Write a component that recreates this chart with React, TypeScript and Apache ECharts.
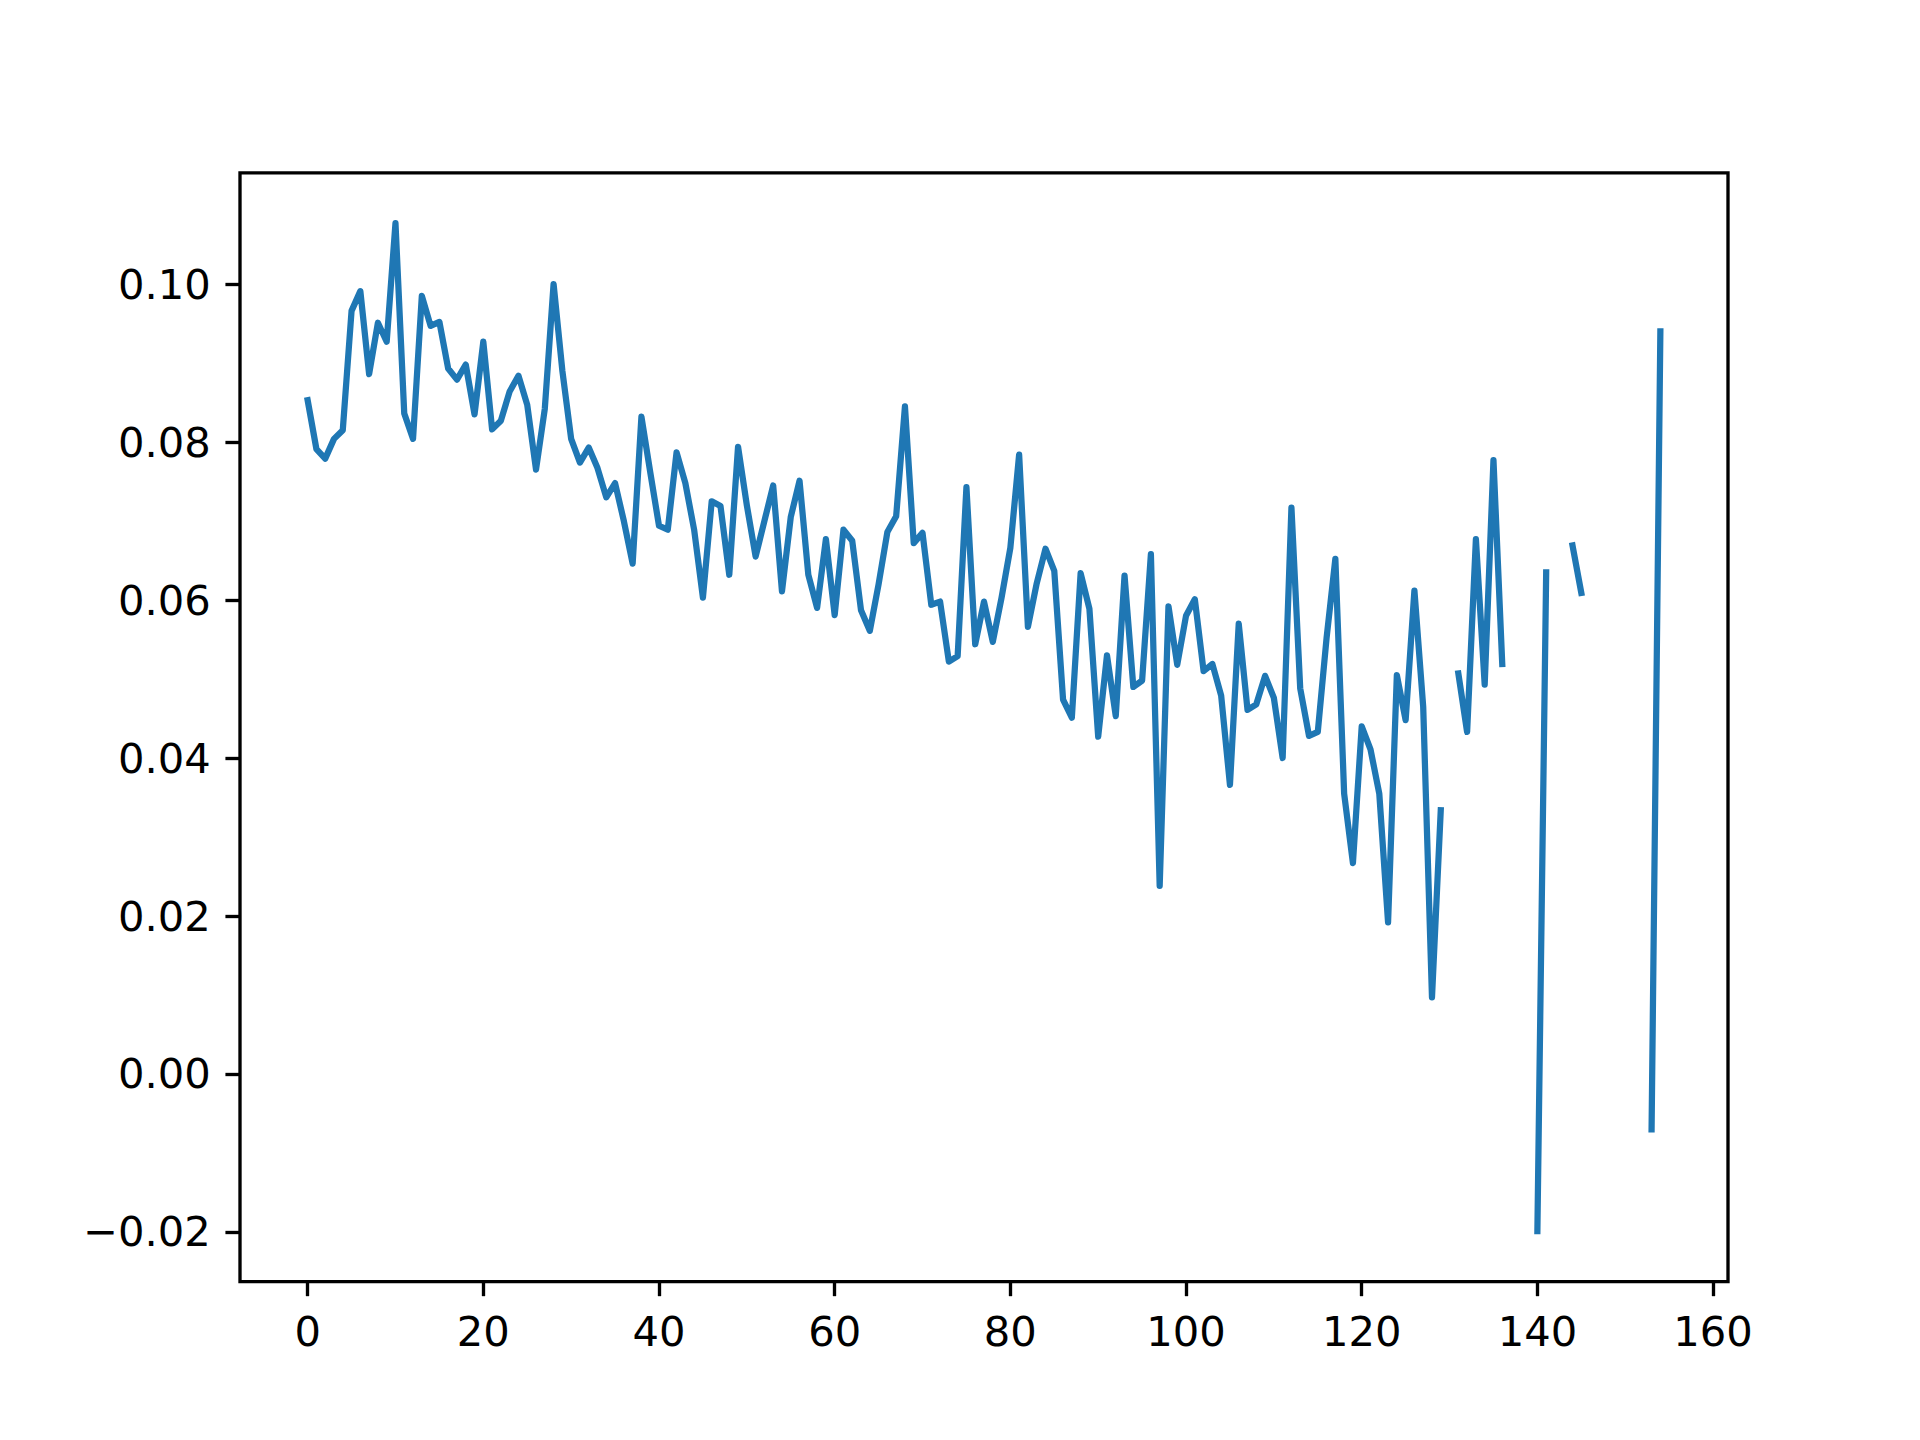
import React, { useEffect, useRef } from "react";
import * as echarts from "echarts";

const yValues: (number | null)[] = [
  0.0853, 0.0791, 0.0779, 0.0804, 0.0815, 0.0966, 0.0991, 0.0886, 0.0951, 0.0927,
  0.1077, 0.0836, 0.0804, 0.0985, 0.0947, 0.0952, 0.0893, 0.0879, 0.0898, 0.0835,
  0.0927, 0.0816, 0.0827, 0.0864, 0.0884, 0.0847, 0.0765, 0.0842, 0.1000, 0.0890,
  0.0804, 0.0774, 0.0793, 0.0767, 0.0730, 0.0748, 0.0700, 0.0646, 0.0832, 0.0762,
  0.0694, 0.0689, 0.0787, 0.0748, 0.0689, 0.0603, 0.0725, 0.0719, 0.0632, 0.0794,
  0.0720, 0.0655, 0.0700, 0.0745, 0.0611, 0.0705, 0.0751, 0.0632, 0.0590, 0.0677,
  0.0581, 0.0689, 0.0675, 0.0587, 0.0561, 0.0620, 0.0686, 0.0706, 0.0845, 0.0672,
  0.0685, 0.0594, 0.0598, 0.0522, 0.0529, 0.0743, 0.0544, 0.0598, 0.0547, 0.0603,
  0.0666, 0.0784, 0.0566, 0.0621, 0.0665, 0.0637, 0.0474, 0.0451, 0.0634, 0.0589,
  0.0427, 0.0530, 0.0453, 0.0631, 0.0490, 0.0498, 0.0658, 0.0238, 0.0592, 0.0518,
  0.0580, 0.0601, 0.0510, 0.0519, 0.0479, 0.0366, 0.0570, 0.0461, 0.0468, 0.0504,
  0.0476, 0.0400, 0.0717, 0.0488, 0.0428, 0.0433, 0.0552, 0.0652, 0.0355, 0.0267,
  0.0440, 0.0411, 0.0355, 0.0192, 0.0505, 0.0448, 0.0612, 0.0465, 0.0097, 0.0334,
  null, 0.0507, 0.0433, 0.0677, 0.0493, 0.0777, 0.0519, null, null, null,
  -0.0199, 0.0635, null, null, 0.0669, 0.0609, null, null, null, null,
  null, null, null, -0.0070, 0.0940,
];

const xTicks: number[] = [0, 20, 40, 60, 80, 100, 120, 140, 160];
const yTicks: number[] = [-0.02, 0.0, 0.02, 0.04, 0.06, 0.08, 0.1];

const PT = 300 / 72;
const FONT = 10 * PT;

export default function App() {
  const ref = useRef<HTMLDivElement>(null);
  useEffect(() => {
    if (!ref.current) return;
    const chart = echarts.init(ref.current, undefined, { renderer: "svg" });
    const nums = yValues.filter((v) => v !== null) as number[];
    const dmin = Math.min(...nums);
    const dmax = Math.max(...nums);
    const ypad = 0.05 * (dmax - dmin);
    const n = yValues.length - 1;
    const xpad = 0.05 * n;
    const data = yValues.map((v, i) => [i, v === null ? null : v]);
    const tickLen = 3.5 * PT;
    const axisCommon = {
      axisLine: { show: false, onZero: false },
      splitLine: { show: false },
      axisTick: {
        show: true,
        inside: false,
        length: tickLen,
        lineStyle: { color: "#000", width: 0.8 * PT },
      },
    };
    chart.setOption({
      animation: false,
      backgroundColor: "#ffffff",
      grid: {
        left: 240,
        right: 192,
        top: 172.8,
        bottom: 158.4,
        show: true,
        borderColor: "#000",
        borderWidth: 0.8 * PT,
        backgroundColor: "transparent",
      },
      xAxis: {
        type: "value",
        position: "bottom",
        min: -xpad,
        max: n + xpad,
        ...axisCommon,
        axisTick: { ...axisCommon.axisTick, customValues: xTicks },
        axisLabel: {
          customValues: xTicks,
          margin: tickLen + 3.5 * PT,
          color: "#000",
          fontFamily: "DejaVu Sans",
          fontSize: FONT,
          formatter: (v: number) => String(Math.round(v)),
        },
      },
      yAxis: {
        type: "value",
        position: "left",
        min: dmin - ypad,
        max: dmax + ypad,
        ...axisCommon,
        axisTick: { ...axisCommon.axisTick, customValues: yTicks },
        axisLabel: {
          customValues: yTicks,
          margin: tickLen + 3.5 * PT,
          color: "#000",
          fontFamily: "DejaVu Sans",
          fontSize: FONT,
          formatter: (v: number) => v.toFixed(2).replace("-", "\u2212"),
        },
      },
      series: [
        {
          type: "line",
          data,
          showSymbol: false,
          connectNulls: false,
          lineStyle: {
            color: "#1f77b4",
            width: 1.5 * PT,
            cap: "square",
            join: "round",
          },
        },
      ],
    });
    return () => chart.dispose();
  }, []);
  return (
    <div
      ref={ref}
      style={{ position: "fixed", left: 0, top: 0, width: 1920, height: 1440 }}
    />
  );
}
